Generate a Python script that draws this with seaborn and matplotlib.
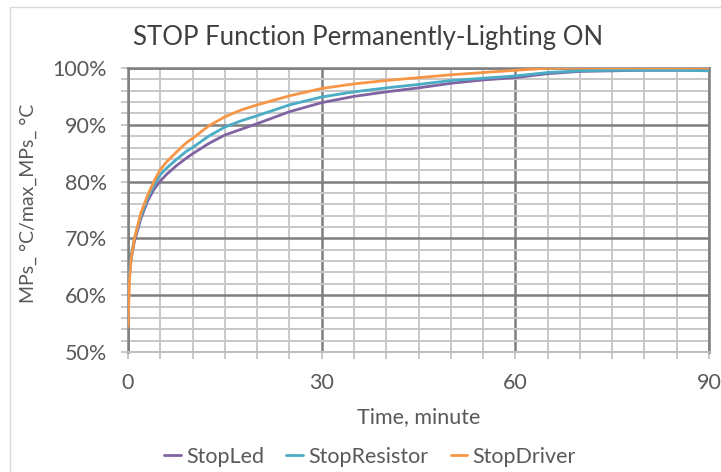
"""
plot.py

Recreates the "STOP Function Permanently-Lighting ON" chart:
normalised temperature (MPs_ °C / max_MPs_ °C) of three parts over 90 minutes.
"""

import pandas as pd
import matplotlib.pyplot as plt
from matplotlib.patches import Rectangle
from matplotlib.ticker import MultipleLocator, PercentFormatter
import seaborn as sns

# Time axis, minutes
time_min = [0, 0.25, 0.5, 1, 2, 3, 4, 5, 6, 7.5, 9, 10, 12.5, 15, 17.5, 20,
            25, 30, 35, 40, 45, 50, 55, 60, 65, 70, 75, 80, 85, 90]

# Normalised temperature, percent
stop_led = [62, 64, 66.5, 69.5, 73.5, 76.5, 78.6, 80.1, 81.3, 82.8, 84.1, 84.9,
            86.7, 88.2, 89.2, 90.2, 92.3, 93.9, 95.0, 95.8, 96.5, 97.3, 97.9,
            98.3, 99.0, 99.4, 99.5, 99.6, 99.6, 99.6]
stop_resistor = [61, 64.5, 67, 70, 74, 77, 79.3, 81.2, 82.4, 83.9, 85.3, 86.0,
                 88.0, 89.6, 90.7, 91.6, 93.5, 94.9, 95.8, 96.5, 97.1, 97.8,
                 98.2, 98.6, 99.2, 99.5, 99.6, 99.6, 99.6, 99.5]
stop_driver = [54.5, 63, 66.5, 70, 74.5, 77.5, 80, 82.1, 83.5, 85.2, 86.8, 87.6,
               89.8, 91.4, 92.6, 93.5, 95.1, 96.4, 97.2, 97.8, 98.3, 98.8, 99.2,
               99.6, 99.95, 100, 100, 100, 100, 100]

series_names = ["StopLed", "StopResistor", "StopDriver"]
colors = ["#8064A2", "#4BACC6", "#F79646"]

# Long format table for seaborn
df = pd.DataFrame({
    "time": time_min * 3,
    "value": stop_led + stop_resistor + stop_driver,
    "series": [n for n in series_names for _ in time_min],
})

sns.set_style("white")
plt.rcParams["font.family"] = ["Lato", "DejaVu Sans"]
text_grey = "#595959"

fig = plt.figure(figsize=(7.21, 4.72), dpi=100)
ax = fig.add_axes([128 / 721, 1 - 352 / 472, 581 / 721, 284 / 472])

# Light frame around the whole chart
fig.patches.append(Rectangle((10 / 721, -0.05), 1.0, 1 - 7 / 472 + 0.05,
                             transform=fig.transFigure, fill=False,
                             edgecolor="#D9D9D9", linewidth=1))

sns.lineplot(data=df, x="time", y="value", hue="series", hue_order=series_names,
             palette=colors, linewidth=2, ax=ax, legend=True, zorder=3)

ax.set_xlim(0, 90)
ax.set_ylim(50, 100)
ax.xaxis.set_major_locator(MultipleLocator(30))
ax.xaxis.set_minor_locator(MultipleLocator(5))
ax.yaxis.set_major_locator(MultipleLocator(10))
ax.yaxis.set_minor_locator(MultipleLocator(2))
ax.yaxis.set_major_formatter(PercentFormatter(decimals=0))

# Gridlines: dark majors, grey minors
ax.grid(which="major", color="#7F7F7F", linewidth=1.8)
ax.grid(which="minor", color="#C8C8C8", linewidth=1.4)
ax.set_axisbelow(True)
for side in ["top", "right", "left"]:
    ax.spines[side].set_color("#7F7F7F")
    ax.spines[side].set_linewidth(1.8)
ax.spines["bottom"].set_color("#BFBFBF")
ax.spines["bottom"].set_linewidth(1.4)

ax.tick_params(axis="both", which="major", labelsize=15.5, labelcolor=text_grey)
ax.tick_params(axis="both", which="both", length=5, color="#BFBFBF", width=1.2,
               bottom=True, left=True)
ax.tick_params(axis="x", which="major", pad=10)
ax.tick_params(axis="y", which="major", pad=10)

fig.text(368 / 721, 1 - 38 / 472, "STOP Function Permanently-Lighting ON",
         fontsize=18.5, color="#404040", ha="center", va="center")
ax.set_xlabel("Time, minute", fontsize=15.5, color=text_grey, labelpad=10)
ax.set_ylabel("MPs_ °C/max_MPs_ °C", fontsize=14, color=text_grey)
ax.yaxis.set_label_coords((37 - 128) / 581, (352 - 203) / 284)

# Legend below the plot
handles, labels = ax.get_legend_handles_labels()
ax.get_legend().remove()
fig.legend(handles, labels, loc="center", bbox_to_anchor=(370 / 721, 1 - 457 / 472),
           ncol=3, frameon=False, fontsize=15.5, handlelength=0.75,
           handletextpad=0.25, columnspacing=1.05, labelcolor=text_grey)

plt.savefig("out.png", dpi=100)
plt.close()
